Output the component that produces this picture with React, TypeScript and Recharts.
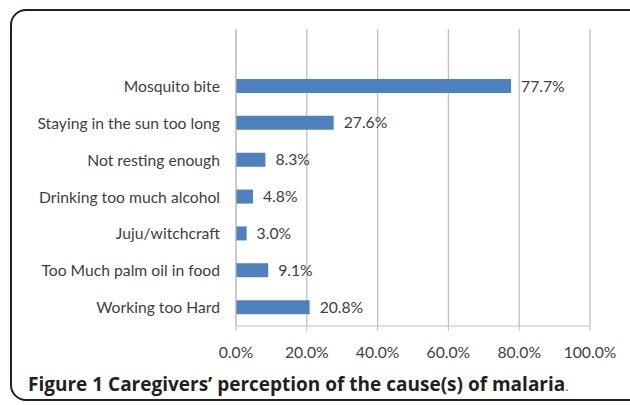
import { Bar, BarChart, CartesianGrid, LabelList, XAxis, YAxis } from 'recharts';

const causes = [
  'Mosquito bite',
  'Staying in the sun too long',
  'Not resting enough',
  'Drinking too much alcohol',
  'Juju/witchcraft',
  'Too Much palm oil in food',
  'Working too Hard',
];
const shares = [77.7, 27.6, 8.3, 4.8, 3.0, 9.1, 20.8];
const xTicks = [0, 20, 40, 60, 80, 100];

const data = causes.map((cause, i) => ({ cause, share: shares[i] }));

const chartFont = 'Lato, "Open Sans", sans-serif';

export default function App() {
  return (
    <div
      style={{
        position: 'absolute',
        left: 0,
        top: 0,
        width: 630,
        height: 405,
        background: '#fff',
        overflow: 'hidden',
      }}
    >
      <div
        style={{
          position: 'absolute',
          left: 10,
          top: 9,
          width: 640,
          height: 392,
          border: '2px solid #231f20',
          borderRadius: 16,
          boxSizing: 'border-box',
        }}
      />
      <div style={{ position: 'absolute', left: 0, top: 0 }}>
        <BarChart
          width={630}
          height={405}
          data={data}
          layout='vertical'
          margin={{ top: 29, right: 40, bottom: 49, left: 0 }}
        >
          <CartesianGrid horizontal={false} stroke='#bfbfbf' strokeWidth={1.3} />
          <XAxis
            type='number'
            domain={[0, 100]}
            ticks={xTicks}
            tickFormatter={(v: number) => `${v.toFixed(1)}%`}
            height={30}
            stroke='#bfbfbf'
            tickSize={5}
            tickMargin={16}
            tick={{ fill: '#404040', fontSize: 15.7, fontFamily: chartFont }}
          />
          <YAxis
            type='category'
            dataKey='cause'
            width={236}
            padding={{ top: 39 }}
            stroke='#bfbfbf'
            tickLine={false}
            tickMargin={10}
            tick={{ fill: '#404040', fontSize: 15.7, fontFamily: chartFont }}
          />
          <Bar dataKey='share' fill='#4f81bd' barSize={14} isAnimationActive={false}>
            <LabelList
              dataKey='share'
              position='right'
              offset={10}
              formatter={(v: number) => `${v.toFixed(1)}%`}
              style={{ fill: '#404040', fontSize: 15.7, fontFamily: chartFont }}
            />
          </Bar>
        </BarChart>
      </div>
      <div
        style={{
          position: 'absolute',
          left: 28,
          top: 371,
          fontFamily: '"Open Sans", sans-serif',
          fontWeight: 700,
          fontSize: 19,
          color: '#231f20',
          whiteSpace: 'nowrap',
        }}
      >
        Figure 1 Caregivers’ perception of the cause(s) of malaria
        <span style={{ fontWeight: 400, fontSize: 13, color: '#555' }}>.</span>
      </div>
    </div>
  );
}
